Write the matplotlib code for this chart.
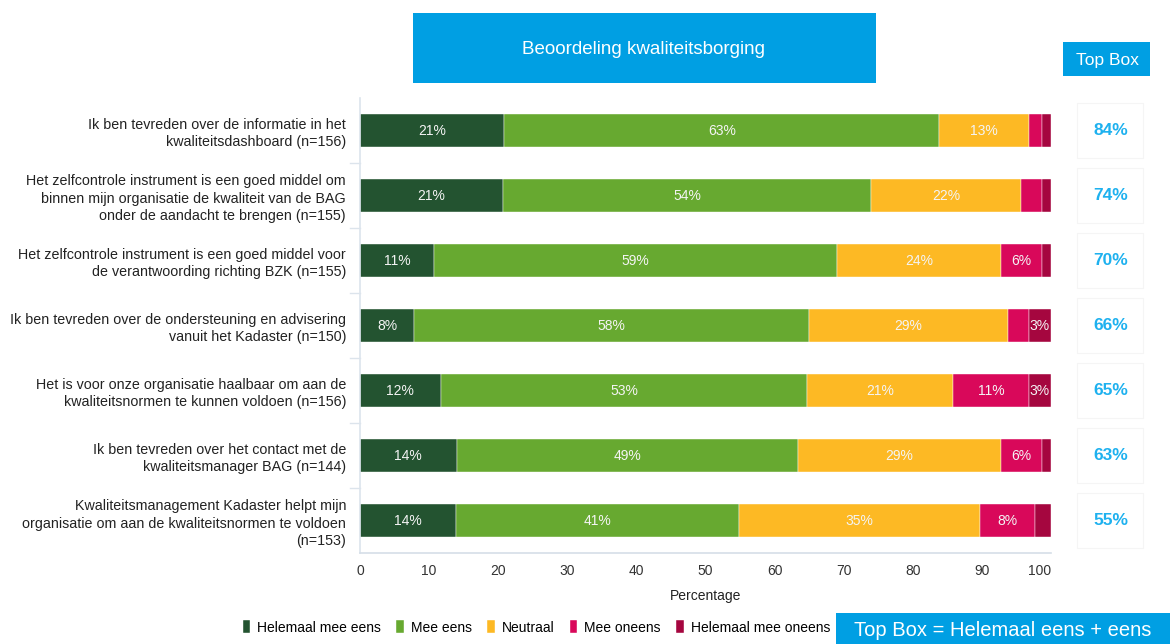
import numpy as np
import matplotlib
matplotlib.use("Agg")
import matplotlib.pyplot as plt
from matplotlib.patches import Rectangle

plt.rcParams['font.family'] = ['Liberation Sans', 'DejaVu Sans']

vragen = [
    "Ik ben tevreden over de informatie in het\nkwaliteitsdashboard (n=156)",
    "Het zelfcontrole instrument is een goed middel om\nbinnen mijn organisatie de kwaliteit van de BAG\nonder de aandacht te brengen (n=155)",
    "Het zelfcontrole instrument is een goed middel voor\nde verantwoording richting BZK (n=155)",
    "Ik ben tevreden over de ondersteuning en advisering\nvanuit het Kadaster (n=150)",
    "Het is voor onze organisatie haalbaar om aan de\nkwaliteitsnormen te kunnen voldoen (n=156)",
    "Ik ben tevreden over het contact met de\nkwaliteitsmanager BAG (n=144)",
    "Kwaliteitsmanagement Kadaster helpt mijn\norganisatie om aan de kwaliteitsnormen te voldoen\n(n=153)",
]

categorieen = ["Helemaal mee eens", "Mee eens", "Neutraal", "Mee oneens", "Helemaal mee oneens"]

helemaal_eens = [20.9, 20.7, 10.7, 7.8, 11.7, 14.0, 13.9]
eens = [62.9, 53.3, 58.4, 57.2, 53.0, 49.4, 40.9]
neutraal = [13.0, 21.7, 23.7, 28.8, 21.1, 29.3, 34.9]
oneens = [1.9, 3.0, 5.9, 3.0, 11.0, 6.0, 8.0]
helemaal_oneens = [1.3, 1.3, 1.3, 3.2, 3.2, 1.3, 2.3]

# labels zoals ze in de balken staan (None = geen label)
lab_helemaal_eens = ["21%", "21%", "11%", "8%", "12%", "14%", "14%"]
lab_eens = ["63%", "54%", "59%", "58%", "53%", "49%", "41%"]
lab_neutraal = ["13%", "22%", "24%", "29%", "21%", "29%", "35%"]
lab_oneens = [None, None, "6%", None, "11%", "6%", "8%"]
lab_helemaal_oneens = [None, None, None, "3%", "3%", None, None]

top_box = ["84%", "74%", "70%", "66%", "65%", "63%", "55%"]

kleuren = ["#235330", "#67A930", "#FDB924", "#D9085A", "#A5063F"]
blauw = "#009FE3"

series = [helemaal_eens, eens, neutraal, oneens, helemaal_oneens]
labels = [lab_helemaal_eens, lab_eens, lab_neutraal, lab_oneens, lab_helemaal_oneens]

fig = plt.figure(figsize=(11.7, 6.44), dpi=100)
ax = fig.add_axes([360/1170, 1-553/644, 691/1170, 455/644])

y = np.arange(len(vragen))
links = np.zeros(len(vragen))
for k in range(len(series)):
    waarden = np.array(series[k])
    ax.barh(y, waarden, left=links, height=0.5, color=kleuren[k],
            label=categorieen[k], edgecolor="white", linewidth=0.3)
    for i in range(len(vragen)):
        if labels[k][i] is not None:
            ax.text(links[i] + waarden[i]/2, y[i], labels[k][i], ha="center",
                    va="center", color="#F4F4F4", fontsize=10)
    links = links + waarden

ax.set_ylim(len(vragen)-0.5, -0.5)
ax.set_xlim(0, 100)
ax.set_xticks(np.arange(0, 101, 10))
ax.tick_params(axis="x", length=0, labelsize=10, colors="#333333", pad=8)
for t in ax.get_xticklabels():
    if t.get_text() == "100":
        t.set_ha("right")
ax.set_yticks(y)
ax.set_yticklabels(vragen, fontsize=10.3, color="#222222", linespacing=1.3)
ax.tick_params(axis="y", length=0, pad=10)
# kleine scheidingsstreepjes tussen de vragen
for b in np.arange(0.5, len(vragen)-0.5, 1):
    ax.plot([-1.5, 0], [b, b], color="#DCE4EC", lw=1, clip_on=False)
for s in ["top", "right"]:
    ax.spines[s].set_visible(False)
ax.spines["left"].set_color("#DCE4EC")
ax.spines["bottom"].set_color("#D5DEE8")
ax.spines["left"].set_linewidth(1.2)
ax.spines["bottom"].set_linewidth(1.2)
ax.set_xlabel("Percentage", fontsize=10, color="#222222", labelpad=8)

# top box kolom
for i in range(len(vragen)):
    yy = y[i]
    ax.add_patch(Rectangle((103.8, yy-0.5+0.08), 9.5, 0.84, transform=ax.transData,
                           facecolor="white", edgecolor="#F5F5F5", lw=0.8, clip_on=False))
    ax.text(108.6, yy, top_box[i], ha="center", va="center", color="#1EB1EF",
            fontsize=12.5, fontweight="bold", clip_on=False)

# titel
fig.patches.append(Rectangle((413/1170, 1-83/644), 463/1170, 70/644,
                             transform=fig.transFigure, facecolor=blauw, edgecolor="none"))
fig.text(644/1170, 1-49/644, "Beoordeling kwaliteitsborging", ha="center", va="center",
         color="white", fontsize=13.5)
fig.patches.append(Rectangle((1063/1170, 1-76/644), 87/1170, 34/644,
                             transform=fig.transFigure, facecolor=blauw, edgecolor="none"))
fig.text(1107/1170, 1-60/644, "Top Box", ha="center", va="center", color="white", fontsize=12.5)
fig.patches.append(Rectangle((836/1170, 0), 334/1170, 31/644,
                             transform=fig.transFigure, facecolor=blauw, edgecolor="none"))
fig.text(1003/1170, 14/644, "Top Box = Helemaal eens + eens", ha="center", va="center",
         color="white", fontsize=14.5)

fig.legend(loc="lower left", bbox_to_anchor=(230/1170, -3/644), ncol=5, frameon=False,
           fontsize=10, handlelength=0.55, handleheight=1.1, handletextpad=0.5,
           columnspacing=1.1)

fig.savefig("out.png", dpi=100)
